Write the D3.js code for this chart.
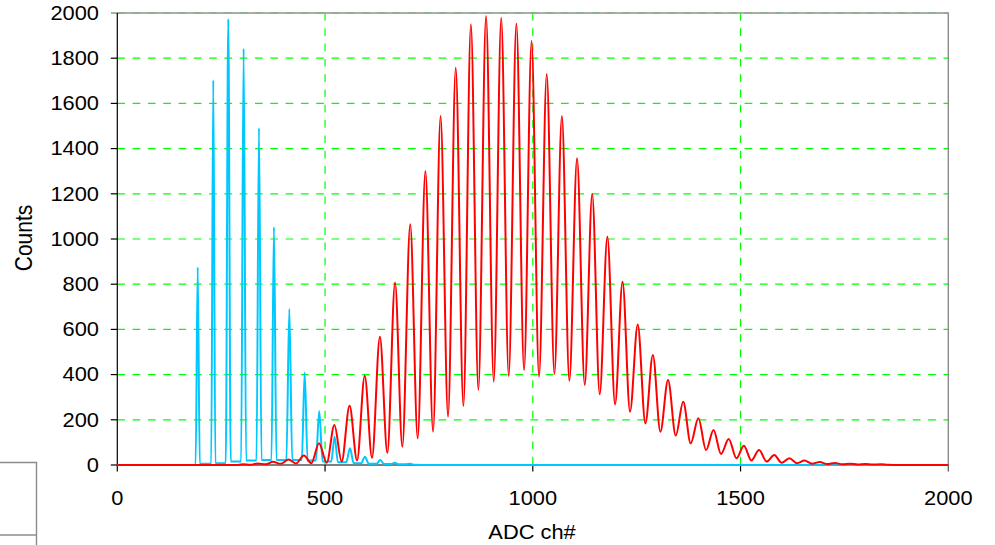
<!DOCTYPE html>
<html>
<head>
<meta charset="utf-8">
<script src="https://cdn.jsdelivr.net/npm/d3@7"></script>
<style>
  html, body { margin: 0; padding: 0; background: #fff; }
  svg { display: block; }
  text { font-family: "Liberation Sans", Arial, Helvetica, sans-serif; fill: #000; }
</style>
</head>
<body>
<svg id="chart" width="995" height="545"></svg>
<script>
// ---- axis ticks ----
const xTicks = [0, 500, 1000, 1500, 2000];
const yTicks = [0, 200, 400, 600, 800, 1000, 1200, 1400, 1600, 1800, 2000];

// ---- blue spectrum: photo-electron peaks (channel, counts) ----
const cyanPeakCh     = [193.5, 231, 267, 304, 341, 377, 414, 451, 486, 523, 560, 596, 633, 668, 704];
const cyanPeakCounts = [875, 1703, 1973, 1843, 1491, 1053, 690, 410, 239, 125, 74, 37, 22, 10, 6];
const cyanHalfWidth  = [5, 5, 6, 6, 6, 6, 7, 7, 8, 8, 9, 9, 9, 9, 9];
// level between a peak and the next one
const cyanFloorCounts = [5, 8, 15, 20, 22, 22, 22, 20, 16, 12, 8, 6, 4, 3, 1];

// ---- red spectrum: peaks and the valleys between them ----
const redPeakCh = [302, 338, 375, 412, 449, 485.5, 522.5, 559, 595.5, 632,
  668.5, 705, 741.5, 778, 814.5, 851, 887.5, 924, 960.5, 997,
  1033.5, 1070, 1106.5, 1143, 1179.5, 1216, 1252.5, 1289, 1325.5, 1362,
  1398.5, 1435, 1471.5, 1508, 1544.5, 1581, 1617.5, 1654, 1690.5, 1727,
  1763.5, 1800, 1836.5];
const redPeakCounts = [3, 7, 14, 24, 42, 96, 177, 262, 395, 568,
  808, 1065, 1301, 1544, 1758, 1950, 1987, 1979, 1954, 1876,
  1730, 1544, 1357, 1199, 1010, 811, 622, 487, 376, 280,
  207, 155, 115, 85, 66, 44, 30, 20, 13, 9,
  6, 4, 3];
const redValleyCh = [320, 357, 393, 430, 467, 504, 540, 577, 613, 650,
  686, 723, 760, 796, 833, 869, 906, 942, 979, 1015,
  1052, 1088, 1125, 1161, 1198, 1234, 1271, 1307, 1344, 1380,
  1417, 1453, 1490, 1526, 1563, 1599, 1636, 1672, 1709, 1745,
  1782, 1818];
const redValleyCounts = [1, 3, 5, 7, 8, 10, 15, 20, 32, 54,
  81, 118, 147, 214, 261, 332, 369, 394, 420, 391,
  403, 373, 354, 313, 268, 236, 184, 147, 130, 96,
  66, 49, 30, 20, 15, 10, 8, 6, 4, 3,
  2, 2];

// ---- layout ----
const plot = { left: 117.3, right: 948.3, top: 13, bottom: 465 };
const svg = d3.select("#chart");

const x = d3.scaleLinear().domain([0, 2000]).range([plot.left, plot.right]);
const y = d3.scaleLinear().domain([0, 2000]).range([plot.bottom, plot.top]);

const FONT = 19.5, STRETCH = 1.12;

// ---- grid ----
const grid = svg.append("g");
grid.selectAll("line.h").data(yTicks.filter(d => d > 0)).join("line")
  .attr("x1", plot.left).attr("x2", plot.right)
  .attr("y1", d => y(d)).attr("y2", d => y(d))
  .attr("stroke", "#00ff00").attr("stroke-width", 1.2)
  .attr("stroke-dasharray", "7.7 7.6");
grid.selectAll("line.v").data(xTicks.filter(d => d > 0 && d < 2000)).join("line")
  .attr("x1", d => x(d)).attr("x2", d => x(d))
  .attr("y1", plot.top).attr("y2", plot.bottom)
  .attr("stroke", "#00ff00").attr("stroke-width", 1.2)
  .attr("stroke-dasharray", "7.7 7.6");

// plot frame (top and right)
svg.append("line").attr("x1", 111).attr("x2", plot.right + 0.5)
  .attr("y1", plot.top).attr("y2", plot.top)
  .attr("stroke", "#999").attr("stroke-opacity", 0.8).attr("stroke-width", 2);
svg.append("line").attr("x1", plot.right).attr("x2", plot.right)
  .attr("y1", plot.top).attr("y2", plot.bottom)
  .attr("stroke", "#8a8a8a").attr("stroke-width", 1.4);

// ---- axes ----
const axes = svg.append("g").attr("stroke", "#000").attr("stroke-width", 1.2);
axes.append("line").attr("x1", plot.left).attr("x2", plot.left)
  .attr("y1", plot.top).attr("y2", plot.bottom);
axes.append("line").attr("x1", plot.left).attr("x2", plot.right)
  .attr("y1", plot.bottom).attr("y2", plot.bottom);
axes.selectAll("line.yt").data(yTicks.filter(d => d < 2000)).join("line")
  .attr("x1", plot.left - 6.5).attr("x2", plot.left)
  .attr("y1", d => y(d)).attr("y2", d => y(d));
axes.selectAll("line.xt").data(xTicks).join("line")
  .attr("x1", d => x(d)).attr("x2", d => x(d))
  .attr("y1", plot.bottom).attr("y2", plot.bottom + 6.5)
  .attr("stroke", d => d === 2000 ? "#555" : "#000");

// ---- series (drawn over the axis line) ----
const cyanPts = [[0, 0]];
cyanPeakCh.forEach((c, i) => {
  const before = i === 0 ? 0 : cyanFloorCounts[i - 1];
  cyanPts.push([c - cyanHalfWidth[i], before]);
  cyanPts.push([c, cyanPeakCounts[i]]);
  cyanPts.push([c + cyanHalfWidth[i], cyanFloorCounts[i]]);
});
cyanPts.push([760, 0], [2000, 0]);

const redPts = [[0, 0], [285, 0]];
redPeakCh.forEach((c, i) => {
  redPts.push([c, redPeakCounts[i]]);
  if (i < redValleyCh.length) redPts.push([redValleyCh[i], redValleyCounts[i]]);
});
redPts.push([1855, 1], [1880, 0], [2000, 0]);

const line = d3.line().x(d => x(d[0])).y(d => y(d[1])).curve(d3.curveMonotoneX);

svg.append("path").attr("d", line(cyanPts))
  .attr("fill", "none").attr("stroke", "#00c8ff").attr("stroke-width", 2)
  .attr("stroke-linejoin", "round");
svg.append("path").attr("d", line(redPts))
  .attr("fill", "none").attr("stroke", "#ff0000").attr("stroke-width", 2)
  .attr("stroke-linejoin", "round");

// ---- labels ----
function label(px, py, str, anchor, size, rot) {
  const g = svg.append("g")
    .attr("transform", `translate(${px},${py}) scale(${STRETCH},1)` + (rot ? ` rotate(${rot})` : ""));
  g.append("text").attr("text-anchor", anchor).attr("font-size", size).text(str);
}

yTicks.forEach(v => label(99, y(v) + FONT * 0.35, String(v), "end", FONT));
xTicks.forEach(v => label(x(v), 505, String(v), "middle", FONT));

label(532, 539, "ADC ch#", "middle", FONT);
label(32, 238, "Counts", "middle", 21, -90);

// partial frame at the lower left corner
const box = svg.append("g").attr("stroke", "#8c8c8c").attr("stroke-width", 1.4).attr("fill", "none");
box.append("path").attr("d", "M0,462.5H36.5V545");
box.append("path").attr("d", "M0,535H36.5");
</script>
</body>
</html>
